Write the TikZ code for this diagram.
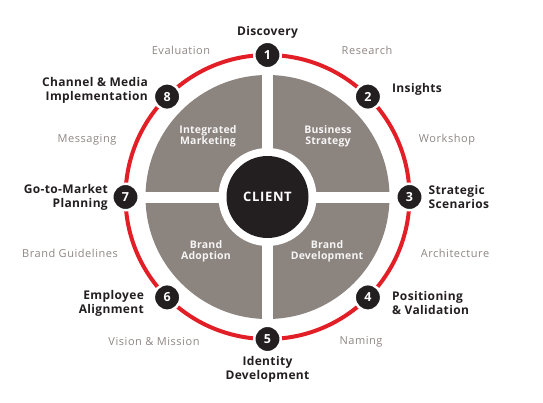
\documentclass[tikz,border=0pt]{standalone}
\usepackage{fontspec}
\setmainfont{Open Sans}
\usetikzlibrary{positioning,calc}
\definecolor{cycRed}{HTML}{E21F26}
\definecolor{cycGray}{HTML}{8C847F}
\definecolor{cycInk}{HTML}{231F20}
\definecolor{cycNote}{HTML}{8E8683}
\tikzset{
  badge/.style={
    circle, fill=cycInk, draw=white, line width=2.5pt,
    minimum size=26.5pt, inner sep=0pt,
    text=white, font=\fontsize{12.5}{13}\selectfont\bfseries,
  },
  stage label/.style={
    inner sep=0pt, text=cycInk,
    font=\fontsize{12}{14}\selectfont\bfseries\addfontfeatures{LetterSpace=3},
  },
  phase label/.style={
    inner sep=0pt, text=cycNote,
    font=\fontsize{11}{13}\selectfont\addfontfeatures{LetterSpace=5},
  },
  quad label/.style={
    inner sep=0pt, align=center, text=white!92!cycGray,
    font=\fontsize{10.5}{11}\selectfont\bfseries\addfontfeatures{LetterSpace=2},
  },
  client/.style={
    circle, fill=cycInk, minimum size=82pt, inner sep=0pt,
    text=white, font=\fontsize{13}{13}\selectfont\bfseries\addfontfeatures{LetterSpace=5},
  },
}

\begin{document}
\begin{tikzpicture}[x=1pt,y=1pt]
\useasboundingbox (-267.5,-205) rectangle (275.5,197);

% --- outer red ring ---
\draw[cycRed, line width=4pt] (0,0) circle[radius=142pt];

% --- four gray quadrants, cut by white gaps ---
\fill[cycGray] (0,0) circle[radius=122pt];
\fill[white] (-5.5,-123) rectangle (5.5,123);
\fill[white] (-123,-5.5) rectangle (123,5.5);
\fill[white] (0,0) circle[radius=49pt];
\node[client] (client) at (0,0) {CLIENT};

\node[quad label] (marketing)   at (-59.5,61)  {Integrated\\Marketing};
\node[quad label] (strategy)    at (60.5,61)   {Business\\Strategy};
\node[quad label] (adoption)    at (-61.5,-54) {Brand\\Adoption};
\node[quad label] (development) at (59.5,-54)  {Brand\\Development};

% --- numbered badges on the ring ---
\foreach \n/\a in {1/90,2/45,3/0,4/-45,5/-90,6/-135,7/180,8/135}
  \node[badge] (b\n) at (\a:142) {\n};

% --- stage names ---
\node[stage label, above=1.5pt of b1] (discovery) {Discovery};
\node[stage label, right=9.5pt of b2, yshift=7pt] (insights) {Insights};
\node[stage label, right=4.5pt of b3, align=left] (scenarios) {Strategic\\Scenarios};
\node[stage label, right=9.5pt of b4, yshift=-6pt, align=left] (positioning) {Positioning\\\& Validation};
\node[stage label, below=3pt of b5, align=center] (identity) {Identity\\Development};
\node[stage label, left=8.5pt of b6, yshift=-6pt, align=right] (employee) {Employee\\Alignment};
\node[stage label, left=3pt of b7, align=right] (gotomarket) {Go-to-Market\\Planning};
\node[stage label, left=4.5pt of b8, yshift=6pt, align=right] (channel) {Channel \& Media\\Implementation};

% --- activities between the stages ---
\node[phase label] (research)   at (99.5,147)    {Research};
\node[phase label] (workshop)   at (179.5,57)    {Workshop};
\node[phase label] (architect)  at (187.5,-56)   {Architecture};
\node[phase label] (naming)     at (93.5,-145)   {Naming};
\node[phase label] (vision)     at (-113.5,-145) {Vision \& Mission};
\node[phase label] (guidelines) at (-197.5,-56)  {Brand Guidelines};
\node[phase label] (messaging)  at (-180.5,57)   {Messaging};
\node[phase label] (evaluation) at (-86.5,147)   {Evaluation};

\end{tikzpicture}
\end{document}
